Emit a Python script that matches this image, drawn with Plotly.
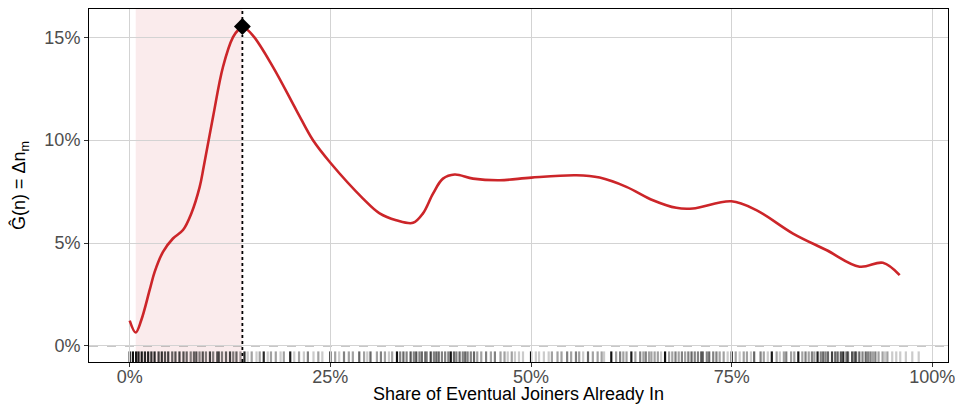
import plotly.graph_objects as go

# ---- data ----
curve_x_pct = [0.0, 0.75, 1.45, 2.49, 3.11, 4.15, 5.39, 6.64, 7.68, 8.72, 9.22, 10.38,
               11.62, 12.87, 13.62, 14.04, 15.36, 17.86, 20.77, 22.84, 25.0, 29.07, 31.14,
               33.2, 35.3, 36.54, 37.79, 39.03, 40.49, 42.77, 46.1, 50.04, 55.65, 58.55,
               61.88, 65.19, 68.1, 70.17, 74.96, 78.07, 82.64, 86.79, 90.94, 93.84, 95.93]
curve_y_pct = [1.23, 0.65, 1.26, 2.72, 3.60, 4.57, 5.22, 5.63, 6.44, 7.73, 8.70, 11.12,
               13.55, 15.00, 15.40, 15.52, 15.08, 13.55, 11.45, 9.99, 8.90, 7.16, 6.44,
               6.11, 5.98, 6.44, 7.40, 8.13, 8.33, 8.13, 8.05, 8.18, 8.29, 8.18,
               7.73, 7.08, 6.71, 6.68, 7.03, 6.60, 5.46, 4.66, 3.85, 4.04, 3.44]

rug_x = [0.000, 0.004, 0.008, 0.011, 0.015, 0.019, 0.023, 0.027, 0.031, 0.036, 0.040, 0.044,
         0.048, 0.053, 0.057, 0.062, 0.067, 0.071, 0.076, 0.080, 0.083, 0.087, 0.091, 0.095,
         0.100, 0.104, 0.109, 0.111, 0.115, 0.120, 0.125, 0.129, 0.133, 0.138, 0.143,
         0.147, 0.152, 0.158, 0.162, 0.167, 0.172, 0.176, 0.182, 0.188, 0.192, 0.200,
         0.205, 0.211, 0.217, 0.222, 0.229, 0.235, 0.240, 0.250,
         0.256, 0.261, 0.267, 0.273, 0.278, 0.286, 0.292, 0.296, 0.300, 0.308, 0.313, 0.318,
         0.323, 0.327, 0.333,
         0.337, 0.341, 0.345, 0.350, 0.354, 0.357, 0.361, 0.364, 0.368, 0.370, 0.375, 0.379,
         0.382, 0.385, 0.389, 0.393, 0.397, 0.400,
         0.404, 0.407, 0.411, 0.415, 0.418, 0.421, 0.425, 0.429, 0.433, 0.438, 0.444, 0.450,
         0.455, 0.462, 0.467, 0.471, 0.476, 0.480, 0.485, 0.490, 0.500,
         0.506, 0.510, 0.516, 0.522, 0.526, 0.533, 0.538, 0.545, 0.550, 0.556, 0.560, 0.565,
         0.571, 0.577, 0.583, 0.588, 0.591, 0.600,
         0.606, 0.611, 0.615, 0.619, 0.625, 0.630, 0.636, 0.640, 0.643, 0.647, 0.650, 0.654,
         0.658, 0.662, 0.667, 0.672, 0.676, 0.680, 0.684, 0.688, 0.692, 0.696, 0.700, 0.704,
         0.708, 0.712, 0.714, 0.719, 0.722, 0.727, 0.731, 0.735, 0.740, 0.745, 0.750,
         0.755, 0.760, 0.765, 0.769, 0.774, 0.778,
         0.786, 0.790, 0.795, 0.800, 0.806, 0.810, 0.815, 0.818, 0.824, 0.828, 0.833, 0.838,
         0.842, 0.846, 0.850, 0.853, 0.857, 0.861, 0.864, 0.867, 0.870, 0.875, 0.879, 0.882,
         0.886, 0.889, 0.893, 0.895, 0.900, 0.903, 0.905, 0.909, 0.913, 0.917, 0.920, 0.923,
         0.926, 0.929, 0.933, 0.938, 0.941, 0.944, 0.950, 0.955, 0.960, 0.967, 0.975, 0.983]
rug_n = [40, 12, 10, 9, 10, 8, 9, 7, 8, 6, 7, 5,
         6, 4, 5, 6, 5, 4, 3, 4, 5, 3, 5, 3,
         6, 3, 4, 5, 3, 4, 6, 3, 4, 2, 8,
         1, 2, 1, 2, 8, 1, 2, 2, 1, 2, 10,
         1, 2, 1, 3, 1, 2, 1, 12,
         2, 1, 3, 2, 2, 4, 2, 1, 4, 2, 3, 2,
         1, 2, 12,
         3, 4, 3, 5, 3, 5, 3, 4, 3, 3, 6, 3,
         4, 4, 3, 3, 3, 12,
         4, 3, 4, 3, 4, 3, 3, 4, 2, 2, 3, 2,
         3, 2, 2, 1, 2, 1, 1, 1, 14,
         1, 1, 1, 1, 2, 2, 2, 3, 2, 3, 2, 1,
         4, 2, 2, 2, 1, 12,
         2, 3, 2, 2, 10, 2, 3, 2, 3, 2, 2, 2,
         2, 1, 12, 2, 2, 3, 2, 3, 2, 3, 4, 3,
         3, 4, 4, 3, 4, 3, 3, 2, 2, 1, 14,
         2, 1, 2, 2, 1, 4,
         3, 2, 1, 10, 2, 1, 2, 3, 2, 2, 10, 2,
         3, 2, 3, 2, 9, 3, 4, 3, 4, 6, 4, 4,
         5, 8, 4, 4, 5, 4, 4, 4, 3, 4, 3, 3,
         2, 3, 2, 2, 1, 2, 1, 1, 1, 1, 1, 1]

x_ticks = [0, 0.25, 0.5, 0.75, 1.0]
x_tick_labels = ["0%", "25%", "50%", "75%", "100%"]
y_ticks = [0, 0.05, 0.10, 0.15]
y_tick_labels = ["0%", "5%", "10%", "15%"]

x_title = "Share of Eventual Joiners Already In"
y_title = "Ĝ(n) = Δn<sub>m</sub>"

# ---- derived ----
cx = [v / 100 for v in curve_x_pct]
cy = [v / 100 for v in curve_y_pct]
i_max = max(range(len(cy)), key=lambda i: cy[i])
i_min = min(range(len(cy)), key=lambda i: cy[i])
peak_x, peak_y = cx[i_max], cy[i_max]
trough_x = cx[i_min]

RED = "#cc2529"
FONT = "Liberation Sans, Arial, sans-serif"
fig = go.Figure()

shapes = []
# shaded region between the minimum and the peak
shapes.append(dict(type="rect", xref="x", yref="paper", x0=trough_x, x1=peak_x, y0=0, y1=1,
                   fillcolor="rgba(204,37,41,0.09)", line=dict(width=0), layer="below"))
# dashed zero line
shapes.append(dict(type="line", xref="paper", yref="y", x0=0, x1=1, y0=0, y1=0,
                   line=dict(color="#7f7f7f", width=1, dash="dash"), layer="below"))
# rug
for xv, n in zip(rug_x, rug_n):
    op = 1 - (1 - 0.2) ** n
    shapes.append(dict(type="line", xref="x", yref="paper", x0=xv, x1=xv, y0=0, y1=0.03,
                       line=dict(color="black", width=2.2), opacity=op, layer="below"))
# dotted vertical at peak
shapes.append(dict(type="line", xref="x", yref="paper", x0=peak_x, x1=peak_x, y0=0, y1=1,
                   line=dict(color="black", width=1.8, dash="dot"), layer="below"))

fig.add_trace(go.Scatter(x=cx, y=cy, mode="lines",
                         line=dict(color=RED, width=2.6, shape="spline", smoothing=1.0),
                         hoverinfo="skip", showlegend=False))
fig.add_trace(go.Scatter(x=[peak_x], y=[peak_y], mode="markers",
                         marker=dict(symbol="diamond", size=13, color="black"),
                         showlegend=False))

axis_common = dict(showgrid=True, gridcolor="#d3d3d3", gridwidth=1,
                   showline=True, linecolor="black", linewidth=1, mirror=True,
                   ticks="outside", ticklen=4, tickcolor="#333333", zeroline=False,
                   automargin=False,
                   tickfont=dict(family=FONT, size=18, color="#4d4d4d"))

# the page shows the figure offset by the default 8px body margin
fig.update_layout(
    width=955, height=396,
    margin=dict(l=81, r=15, t=1, b=42),
    plot_bgcolor="white", paper_bgcolor="white",
    font=dict(family=FONT, color="black"),
    shapes=shapes,
    xaxis=dict(range=[-0.0507, 1.0195], tickvals=x_ticks, ticktext=x_tick_labels,
               ticklabelstandoff=-6,
               title=dict(text=x_title, font=dict(family=FONT, size=18), standoff=2),
               **axis_common),
    yaxis=dict(range=[-0.0078, 0.1637], tickvals=y_ticks, ticktext=y_tick_labels,
               title=dict(text=y_title, font=dict(family=FONT, size=18), standoff=14),
               **axis_common),
)

fig.write_html("out.html")
